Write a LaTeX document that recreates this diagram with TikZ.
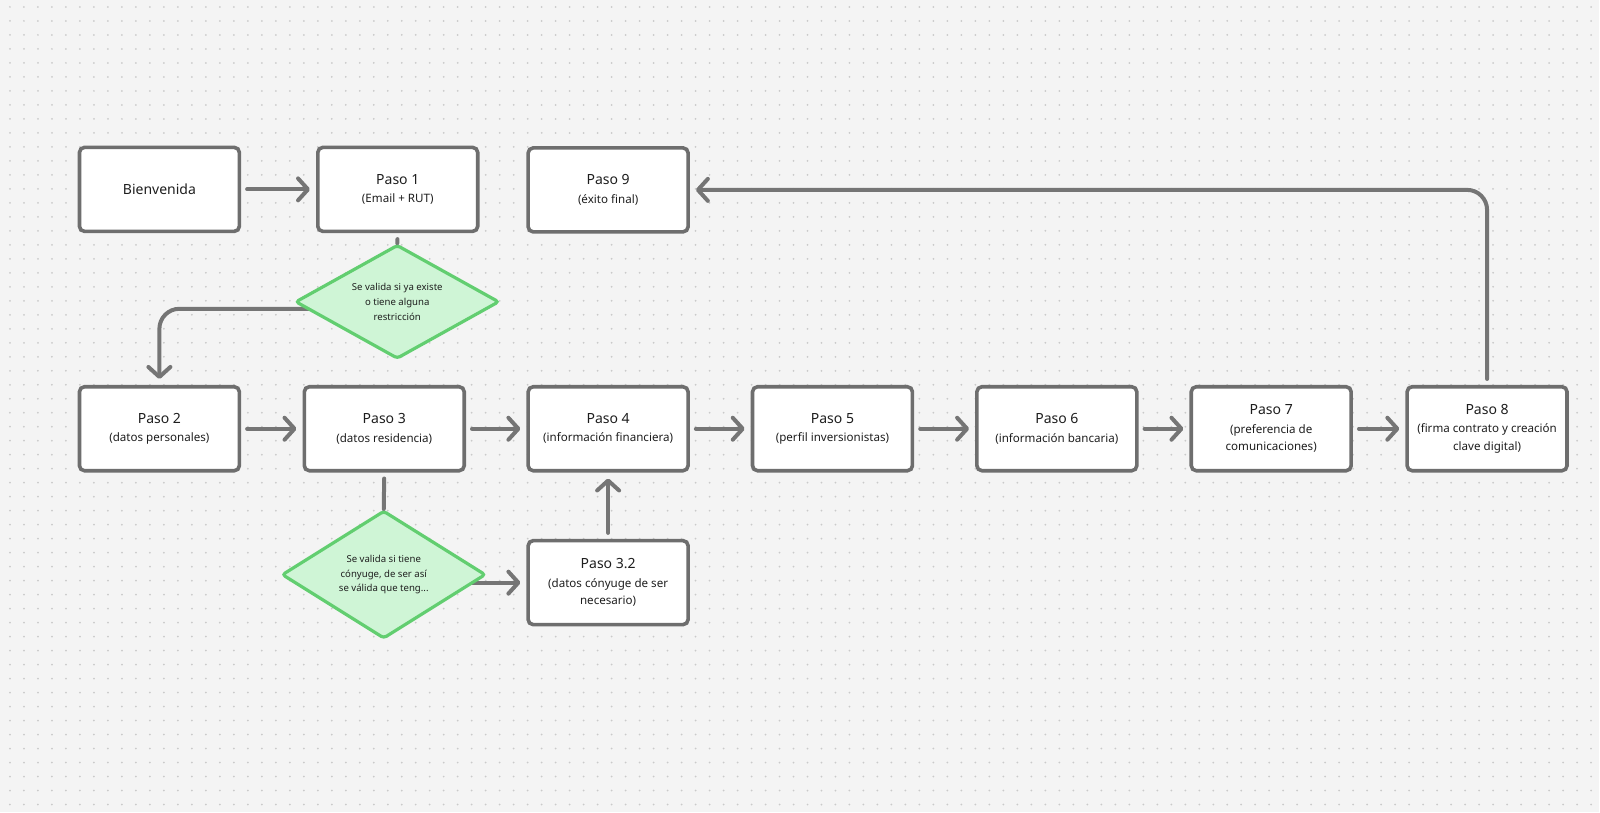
\documentclass[tikz,border=0pt]{standalone}
\usepackage{fontspec}
\setmainfont{Noto Sans}
\usetikzlibrary{shapes.geometric,arrows.meta}
\definecolor{bgc}{HTML}{F4F4F4}
\definecolor{dotc}{HTML}{CACACA}
\definecolor{edge}{HTML}{6E6E6E}
\definecolor{lnc}{HTML}{757575}
\definecolor{dfill}{HTML}{CFF5D6}
\definecolor{dedge}{HTML}{62CE70}
\definecolor{txt}{HTML}{1E1E1E}
\pgfdeclarelayer{grid}\pgfdeclarelayer{conn}\pgfsetlayers{grid,conn,main}
\newcommand\ttlf{\fontsize{7}{9.2}\selectfont}
\newcommand\subf{\fontsize{5.8}{8.75}\selectfont}
\newcommand\dmf{\fontsize{4.8}{7.4}\selectfont}
\begin{document}
\begin{tikzpicture}[x=0.5pt,y=-0.5pt,
 stepbox/.style={draw=edge, line width=1.8pt, fill=white, rounded corners=2.5pt, minimum width=80pt, minimum height=42pt, align=center, text=txt, inner sep=0pt, font=\subf},
 decision/.style={diamond, aspect=1.8, draw=dedge, line width=1.6pt, fill=dfill, minimum width=102pt, minimum height=57pt, inner sep=0pt, align=center, text=txt, rounded corners=1.5pt, font=\dmf},
 conn/.style={draw=lnc, line width=2pt, line cap=round},
 arr/.style={conn, -{Straight Barb[length=5pt,width=11pt,line cap=round,line join=round]}, shorten >=3pt, shorten <=3pt},
]
\begin{pgfonlayer}{grid}
\fill[bgc] (0,0) rectangle (1600,813);
\foreach \yy in {7,21,...,805}
  \draw[dotc, line width=1pt, line cap=round, dash pattern=on 0pt off 7pt] (10,\yy) -- (1600,\yy);
\end{pgfonlayer}
\useasboundingbox (0,0) rectangle (1600,813);

\node[stepbox] (bien) at (159.5,189.5) {\ttlf Bienvenida};
\node[stepbox] (p1) at (398,189.5) {\ttlf Paso 1\\[0.4pt](Email + RUT)};
\node[stepbox] (p9) at (608.5,190) {\ttlf Paso 9\\[0.4pt](éxito final)};
\node[stepbox] (p2) at (159.5,429) {\ttlf Paso 2\\[0.4pt](datos personales)};
\node[stepbox] (p3) at (384.5,429) {\ttlf Paso 3\\[0.4pt](datos residencia)};
\node[stepbox] (p4) at (608.5,429) {\ttlf Paso 4\\[0.4pt](información financiera)};
\node[stepbox] (p5) at (833,429) {\ttlf Paso 5\\[0.4pt](perfil inversionistas)};
\node[stepbox] (p6) at (1057.5,429) {\ttlf Paso 6\\[0.4pt](información bancaria)};
\node[stepbox] (p7) at (1272,429) {\ttlf Paso 7\\[0.4pt](preferencia de\\comunicaciones)};
\node[stepbox] (p8) at (1488,429) {\ttlf Paso 8\\[0.4pt](firma contrato y creación\\clave digital)};
\node[stepbox] (p32) at (608.5,583) {\ttlf Paso 3.2\\[0.4pt](datos cónyuge de ser\\necesario)};
\node[decision] (d1) at (397.5,302) {Se valida si ya existe\\o tiene alguna\\restricción};
\node[decision, minimum height=64pt] (d2) at (384,575) {Se valida si tiene\\cónyuge, de ser así\\se válida que teng...};

\begin{pgfonlayer}{conn}
\draw[arr] (bien) -- (p1);
\draw[arr] (p2) -- (p3);
\draw[arr] (p3) -- (p4);
\draw[arr] (p4) -- (p5);
\draw[arr] (p5) -- (p6);
\draw[arr] (p6) -- (p7);
\draw[arr] (p7) -- (p8);
\draw[arr] (p32) -- (p4);
\draw[arr, rounded corners=10pt] (p8.north) |- (p9.east);
\draw[conn, shorten <=3pt] (p1.south) -- (d1.north);
\draw[arr, shorten <=0pt, rounded corners=10pt] ([yshift=-3.5pt]d1.center) -| (p2.north);
\draw[conn, shorten <=3pt] (p3.south) -- (d2.north);
\draw[arr, shorten <=0pt] (d2.center |- p32.west) -- (p32.west);
\end{pgfonlayer}
\end{tikzpicture}
\end{document}
